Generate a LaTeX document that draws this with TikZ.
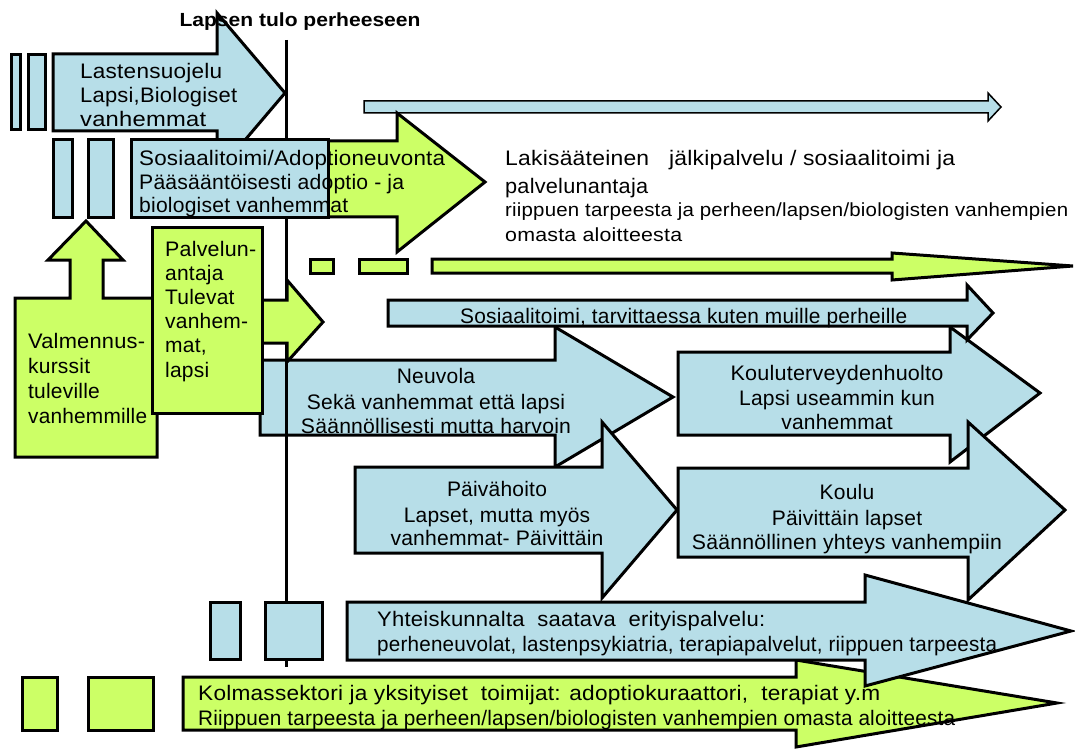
\documentclass[tikz,border=0pt]{standalone}
\usepackage{fontspec}
\usepackage{graphicx}
\setmainfont{Liberation Sans}
\newfontfamily\txtfont{Liberation Sans}[LetterSpace=1]
\definecolor{myblue}{RGB}{183,222,232}
\definecolor{mygreen}{RGB}{204,255,102}
\newcommand{\fitw}[2]{\resizebox{#1pt}{\height}{#2}}
\tikzset{
  bl/.style={fill=myblue,draw=black,line width=3pt,line join=miter},
  gr/.style={fill=mygreen,draw=black,line width=3pt,line join=miter},
  tl/.style={inner sep=0pt,anchor=base west,font=\txtfont\fontsize{21}{24}\selectfont},
  tc/.style={inner sep=0pt,anchor=base,font=\txtfont\fontsize{21}{24}\selectfont},
  ts/.style={inner sep=0pt,anchor=base west,font=\txtfont\fontsize{19}{22}\selectfont},
  vline/.style={draw=black,line width=3pt}
}
\begin{document}
\begin{tikzpicture}[x=1pt,y=-1pt]
\useasboundingbox (0,0) rectangle (1075,751);
\fill[white] (0,0) rectangle (1075,751);

% Lastensuojelu
\draw[bl] (11,55) rectangle (20,130);
\draw[bl] (28,55) rectangle (45,130);
\draw[bl] (53,54) -- (217,54) -- (217,13) -- (285,93) -- (217,173) -- (217,131) -- (53,131) -- cycle;

% Kolmassektori
\draw[gr] (22,677) rectangle (57,730);
\draw[gr] (88,677) rectangle (153,730);
\draw[gr] (183,677) -- (796,677) -- (796,660) -- (1057,703) -- (796,747) -- (796,730) -- (183,730) -- cycle;

% Yhteiskunnalta
\draw[bl] (347,602) -- (865,602) -- (865,575) -- (1071,631) -- (865,686) -- (865,660) -- (347,660) -- cycle;

% Neuvola, Paivahoito, Kouluterveydenhuolto, Koulu
\draw[bl] (260,360) -- (555,360) -- (555,327) -- (673,397) -- (555,467) -- (555,435) -- (260,435) -- cycle;
\draw[bl] (355,467) -- (602,467) -- (602,422) -- (677,510) -- (602,598) -- (602,553) -- (355,553) -- cycle;
\draw[bl] (678,352) -- (950,352) -- (950,327) -- (1040,393) -- (950,462) -- (950,435) -- (678,435) -- cycle;
\draw[bl] (678,468) -- (968,468) -- (968,422) -- (1065,510) -- (968,600) -- (968,557) -- (678,557) -- cycle;

% Sosiaalitoimi bar
\draw[bl] (388,300) -- (967,300) -- (967,285) -- (993,313) -- (967,340) -- (967,326) -- (388,326) -- cycle;

% top thin arrow
\draw[fill=myblue,draw=black,line width=1.5pt] (364,101) -- (988,101) -- (988,93) -- (1001,107) -- (988,121) -- (988,113) -- (364,113) -- cycle;

% long green arrow
\draw[gr] (310,259) rectangle (333,273);
\draw[gr] (359,259) rectangle (407,273);
\draw[gr] (432,259) -- (892,259) -- (892,253) -- (1073,266) -- (892,280) -- (892,273) -- (432,273) -- cycle;

% green arrow behind Sosiaalitoimi/Adoptioneuvonta
\draw[gr] (300,141) -- (397,141) -- (397,113) -- (485,182) -- (397,252) -- (397,217) -- (300,217) -- cycle;

% vertical time line
\coordinate (vtop) at (286,40);
\coordinate (vbot) at (286,667);
\draw[vline] (vtop) -- (vbot);

% Sosiaalitoimi/Adoptioneuvonta box
\draw[bl] (53,140) rectangle (72,218);
\draw[bl] (88,140) rectangle (113,218);
\draw[bl] (131,140) rectangle (328,218);

% Valmennuskurssit up arrow
\draw[gr] (15,457) -- (15,298) -- (70,298) -- (70,260) -- (48,260) -- (86,221) -- (123,260) -- (103,260) -- (103,298) -- (157,298) -- (157,457) -- cycle;

% Palvelunantaja
\draw[gr] (200,300) -- (287,300) -- (287,280) -- (323,322) -- (287,362) -- (287,343) -- (200,343) -- cycle;
\draw[gr] (152,228) rectangle (262,413);

% bottom blue squares
\draw[bl] (210,602) rectangle (240,659);
\draw[bl] (265,602) rectangle (322,659);

% ---------- texts ----------
\node[inner sep=0pt,anchor=base,font=\bfseries\fontsize{19}{22}\selectfont] (title) at (300,27) {\fitw{241}{Lapsen tulo perheeseen}};

\node[tl] (ls1) at (80,79) {\fitw{142}{Lastensuojelu}};
\node[tl] (ls2) at (80,103) {\fitw{157}{Lapsi,Biologiset}};
\node[tl] (ls3) at (80,127) {\fitw{126}{vanhemmat}};

\node[tl] (so1) at (139,166) {\fitw{306}{Sosiaalitoimi/Adoptioneuvonta}};
\node[tl] (so2) at (139,190) {\fitw{265}{Pääsääntöisesti adoptio - ja}};
\node[tl] (so3) at (139,213) {\fitw{209}{biologiset vanhemmat}};

\node[tl] (la1) at (505,166) {\fitw{450}{Lakisääteinen\ \ \ jälkipalvelu / sosiaalitoimi ja}};
\node[tl] (la2) at (505,194) {\fitw{143}{palvelunantaja}};
\node[ts] (la3) at (505,217) {\fitw{563}{riippuen tarpeesta ja perheen/lapsen/biologisten vanhempien}};
\node[ts] (la4) at (505,241) {\fitw{177}{omasta aloitteesta}};

\node[tl] (pa1) at (165,256) {\fitw{91}{Palvelun-}};
\node[tl] (pa2) at (165,280) {antaja};
\node[tl] (pa3) at (165,304) {Tulevat};
\node[tl] (pa4) at (165,328) {vanhem-};
\node[tl] (pa5) at (165,352) {mat,};
\node[tl] (pa6) at (165,377) {lapsi};

\node[tl] (va1) at (28,348) {\fitw{117}{Valmennus-}};
\node[tl] (va2) at (28,373) {kurssit};
\node[tl] (va3) at (28,398) {tuleville};
\node[tl] (va4) at (28,423) {\fitw{119}{vanhemmille}};

\node[tl] (st1) at (460,323) {\fitw{447}{Sosiaalitoimi, tarvittaessa kuten muille perheille}};

\node[tc] (ne1) at (436,383) {Neuvola};
\node[tc] (ne2) at (436,409) {\fitw{258}{Sekä vanhemmat että lapsi}};
\node[tc] (ne3) at (436,433) {\fitw{270}{Säännöllisesti mutta harvoin}};

\node[tc] (ph1) at (497,496) {Päivähoito};
\node[tc] (ph2) at (497,522) {Lapset, mutta myös};
\node[tc] (ph3) at (497,545) {\fitw{213}{vanhemmat- Päivittäin}};

\node[tc] (kt1) at (837,380) {\fitw{213}{Kouluterveydenhuolto}};
\node[tc] (kt2) at (837,405) {Lapsi useammin kun};
\node[tc] (kt3) at (837,429) {vanhemmat};

\node[tc] (ko1) at (847,499) {Koulu};
\node[tc] (ko2) at (847,525) {Päivittäin lapset};
\node[tc] (ko3) at (847,549) {\fitw{310}{Säännöllinen yhteys vanhempiin}};

\node[tl] (yh1) at (377,626) {\fitw{388}{Yhteiskunnalta\ \ saatava\ \ erityispalvelu:}};
\node[tl] (yh2) at (377,651) {\fitw{620}{perheneuvolat, lastenpsykiatria, terapiapalvelut, riippuen tarpeesta}};

\node[tl] (km1) at (198,700) {\fitw{682}{Kolmassektori ja yksityiset\ \ toimijat: adoptiokuraattori,\ \ terapiat y.m}};
\node[tl] (km2) at (198,725) {\fitw{757}{Riippuen tarpeesta ja perheen/lapsen/biologisten vanhempien omasta aloitteesta}};
\end{tikzpicture}
\end{document}
